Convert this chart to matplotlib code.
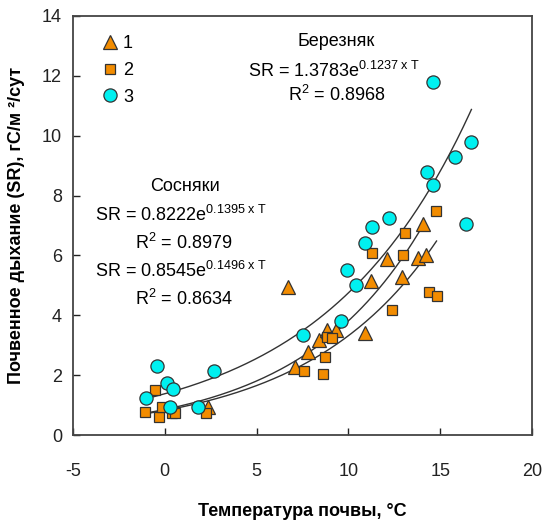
import numpy as np
import matplotlib
matplotlib.use("Agg")
import matplotlib.pyplot as plt

plt.rcParams['font.family'] = ['Liberation Sans', 'DejaVu Sans']
plt.rcParams['mathtext.fontset'] = 'custom'
plt.rcParams['mathtext.rm'] = 'Liberation Sans'
plt.rcParams['mathtext.it'] = 'Liberation Sans'
plt.rcParams['mathtext.bf'] = 'Liberation Sans:bold'
plt.rcParams['axes.unicode_minus'] = False

# Series 1 (triangles)
t1 = [6.7, 2.35, 7.1, 7.8, 8.4, 8.85, 9.3, 10.9, 11.25, 12.1, 12.9, 13.8, 14.2, 14.05]
sr1 = [4.95, 0.95, 2.27, 2.78, 3.17, 3.5, 3.5, 3.4, 5.15, 5.88, 5.28, 5.9, 6.0, 7.05]
# Series 2 (squares)
t2 = [-0.55, -1.1, -0.3, -0.15, 0.4, 0.55, 2.25, 7.6, 8.75, 8.6, 8.85, 9.1,
      11.3, 12.4, 12.95, 13.1, 14.4, 14.8, 14.75]
sr2 = [1.5, 0.76, 0.6, 0.92, 0.72, 0.74, 0.72, 2.15, 2.6, 2.05, 3.27, 3.23,
       6.08, 4.18, 6.0, 6.75, 4.78, 4.65, 7.48]
# Series 3 (circles)
t3 = [-1.0, -0.4, 0.1, 0.45, 0.3, 1.8, 2.7, 7.5, 9.6, 9.9, 10.4, 10.9, 11.3, 12.2,
      14.3, 14.6, 14.6, 15.8, 16.7, 16.4]
sr3 = [1.25, 2.3, 1.75, 1.55, 0.95, 0.95, 2.15, 3.35, 3.8, 5.5, 5.0, 6.4, 6.95, 7.25,
       8.8, 8.35, 11.8, 9.3, 9.8, 7.05]

# Fits: (a, b, T range)
fit_birch = (1.3783, 0.1237, -1.1, 16.7)
fit_pine1 = (0.8222, 0.1395, -1.1, 14.8)
fit_pine2 = (0.8545, 0.1496, -1.1, 14.1)

fig = plt.figure(figsize=(5.43, 5.2), dpi=100)
ax = fig.add_axes([73/543, 85/520, 459/543, 419/520])

for a, b, lo, hi in (fit_birch, fit_pine1, fit_pine2):
    tt = np.linspace(lo, hi, 200)
    ax.plot(tt, a*np.exp(b*tt), color='#333333', lw=1.0, zorder=2)

orange = '#F28C00'
cyan = '#00F0F0'
ec = '#333333'
ax.plot(t1, sr1, ls='none', marker='^', ms=10, mfc=orange, mec=ec, mew=0.9, zorder=3, label='1')
ax.plot(t2, sr2, ls='none', marker='s', ms=7.5, mfc=orange, mec=ec, mew=0.9, zorder=3, label='2')
ax.plot(t3, sr3, ls='none', marker='o', ms=9.5, mfc=cyan, mec=ec, mew=0.9, zorder=3, label='3')

ax.set_xlim(-5, 20)
ax.set_ylim(0, 14)
ax.set_xticks([-5, 0, 5, 10, 15, 20])
ax.set_yticks([0, 2, 4, 6, 8, 10, 12, 14])
ax.tick_params(direction='in', length=5, width=1, labelsize=13, colors='#222222', pad=8)
ax.tick_params(axis='x', pad=20)
for s in ax.spines.values():
    s.set_color('#444444')
    s.set_linewidth(1.3)

ax.set_xlabel('Температура почвы, °С', fontsize=13, fontweight='bold', labelpad=17)
ax.set_ylabel('Почвенное дыхание (SR), гС/м ²/сут', fontsize=13, fontweight='bold', labelpad=12)

leg = ax.legend(loc='upper left', bbox_to_anchor=(0.03, 0.985), frameon=False, fontsize=13,
                handletextpad=0.1, labelspacing=0.55, handlelength=1.2, borderpad=0.2)

fs = 13
ax.text(0.573, 0.938, 'Березняк', transform=ax.transAxes, ha='center', va='center', fontsize=fs)
ax.text(0.569, 0.868, r'SR = 1.3783e$^{0.1237\ \mathrm{x\ T}}$', transform=ax.transAxes,
        ha='center', va='center', fontsize=fs)
ax.text(0.575, 0.811, r'R$^{2}$ = 0.8968', transform=ax.transAxes, ha='center', va='center', fontsize=fs)
ax.text(0.244, 0.592, 'Сосняки', transform=ax.transAxes, ha='center', va='center', fontsize=fs)
ax.text(0.235, 0.524, r'SR = 0.8222e$^{0.1395\ \mathrm{x\ T}}$', transform=ax.transAxes,
        ha='center', va='center', fontsize=fs)
ax.text(0.242, 0.458, r'R$^{2}$ = 0.8979', transform=ax.transAxes, ha='center', va='center', fontsize=fs)
ax.text(0.235, 0.391, r'SR = 0.8545e$^{0.1496\ \mathrm{x\ T}}$', transform=ax.transAxes,
        ha='center', va='center', fontsize=fs)
ax.text(0.242, 0.325, r'R$^{2}$ = 0.8634', transform=ax.transAxes, ha='center', va='center', fontsize=fs)

fig.savefig('out.png', dpi=100)
